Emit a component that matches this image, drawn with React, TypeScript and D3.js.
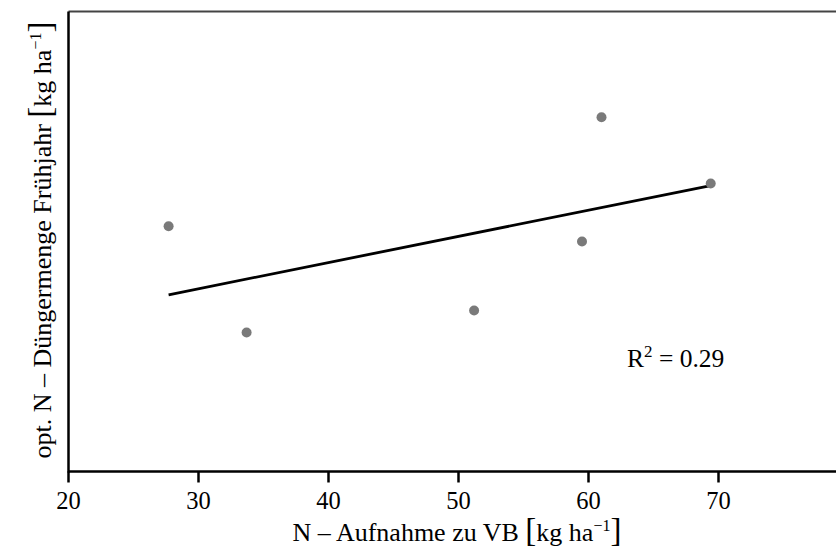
import React from "react";
import * as d3 from "d3";

const xValues = [27.7, 33.7, 51.2, 59.5, 61.0, 69.4];
const yValues = [53.3, 30.2, 35.0, 50.0, 77.0, 62.6];
const xTicks = [20, 30, 40, 50, 60, 70];

const W = 836;
const H = 550;
const left = 68.5;
const top = 11.5;
const bottom = 471.5;
const right = 836;

export default function App() {
  const x = d3.scaleLinear().domain([20, 79]).range([left, 835.5]);
  const y = d3.scaleLinear().domain([0, 100]).range([bottom, top]);

  const n = xValues.length;
  const mx = d3.mean(xValues) as number;
  const my = d3.mean(yValues) as number;
  let sxy = 0, sxx = 0, syy = 0;
  for (let i = 0; i < n; i++) {
    sxy += (xValues[i] - mx) * (yValues[i] - my);
    sxx += (xValues[i] - mx) ** 2;
    syy += (yValues[i] - my) ** 2;
  }
  const slope = sxy / sxx;
  const icpt = my - slope * mx;
  const r2 = (sxy * sxy) / (sxx * syy);
  const x0 = d3.min(xValues) as number;
  const x1 = d3.max(xValues) as number;
  const line = d3.line<number>().x((d) => x(d)).y((d) => y(icpt + slope * d));

  const font = "'Liberation Serif', 'Times New Roman', serif";

  return (
    <svg
      width={W}
      height={H}
      style={{ position: "absolute", left: 0, top: 0, background: "#fff" }}
      fontFamily={font}
    >
      <rect x={0} y={0} width={W} height={H} fill="#fff" />
      <line x1={left} x2={right} y1={top} y2={top} stroke="#444" strokeWidth={2} />
      <line x1={left} x2={left} y1={top} y2={bottom + 1} stroke="#000" strokeWidth={2.5} />
      <line x1={left} x2={right} y1={bottom} y2={bottom} stroke="#000" strokeWidth={2.5} />
      {xTicks.map((t) => (
        <g key={t}>
          <line x1={x(t)} x2={x(t)} y1={bottom} y2={bottom + 11} stroke="#000" strokeWidth={2.5} />
          <text x={x(t)} y={509} textAnchor="middle" fontSize={24.5} fill="#000">
            {t}
          </text>
        </g>
      ))}
      <path d={line([x0, x1]) as string} fill="none" stroke="#000" strokeWidth={2.8} />
      {xValues.map((v, i) => (
        <circle key={i} cx={x(v)} cy={y(yValues[i])} r={5} fill="#7a7a7a" />
      ))}
      <text x={627} y={367} fontSize={25.5} fill="#000">
        R<tspan dy={-10} fontSize={17}>2</tspan>
        <tspan dy={10}> = {r2.toFixed(2)}</tspan>
      </text>
      <text x={457} y={541} textAnchor="middle" fontSize={26} fill="#000">
        N – Aufnahme zu VB <tspan fontSize={33}>[</tspan>kg ha
        <tspan dy={-10} fontSize={16}>−1</tspan>
        <tspan dy={10} fontSize={33}>]</tspan>
      </text>
      <text
        transform={`translate(51, 240) rotate(-90)`}
        textAnchor="middle"
        fontSize={26}
        fill="#000"
      >
        opt. N – Düngermenge Frühjahr <tspan fontSize={33}>[</tspan>kg ha
        <tspan dy={-10} fontSize={16}>−1</tspan>
        <tspan dy={10} fontSize={33}>]</tspan>
      </text>
    </svg>
  );
}
